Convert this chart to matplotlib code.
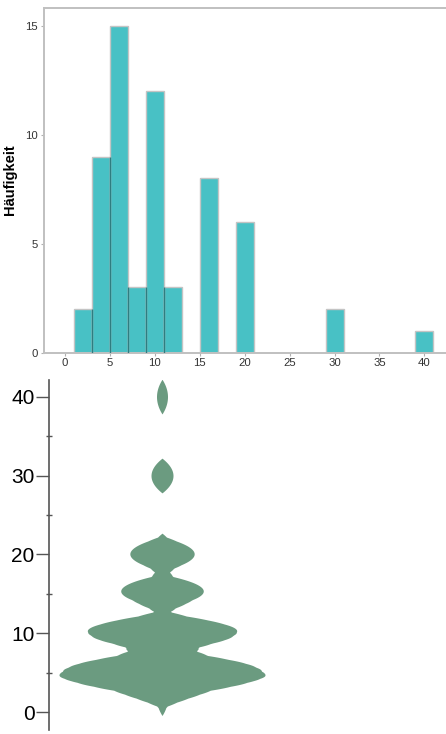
import numpy as np
import matplotlib
matplotlib.use("Agg")
import matplotlib.pyplot as plt

plt.rcParams['font.family'] = ['Liberation Sans', 'DejaVu Sans']

# ---- data (raw observations, estimated from histogram + violin) ----
values_1_3 = [1.8, 2.8]
values_3_5 = [3, 3, 3, 3.5, 3.5, 4, 4, 4.5, 4.5]
values_5_7 = [5, 5, 5, 5, 5, 5, 5, 5.5, 5.5, 5.5, 6, 6, 6, 6.5, 6.5]
values_7_9 = [7, 7.5, 8]
values_9_11 = [9, 9.5, 10, 10, 10, 10, 10, 10.5, 10.5, 10.5, 10.5, 10.5]
values_11_13 = [11, 11, 12]
values_15_17 = [15, 15, 15, 15, 15, 15.5, 16, 16.5]
values_19_21 = [19.5, 20, 20, 20, 20.5, 20.5]
values_29_31 = [30, 30]
values_39_41 = [40]
values = np.array(values_1_3 + values_3_5 + values_5_7 + values_7_9 + values_9_11 +
                  values_11_13 + values_15_17 + values_19_21 + values_29_31 +
                  values_39_41, float)

hist_bins = np.arange(1, 43, 2)
hist_xticks = [0, 5, 10, 15, 20, 25, 30, 35, 40]
hist_yticks = [0, 5, 10, 15]
violin_major = [0, 10, 20, 30, 40]
violin_minor = [5, 15, 25, 35]
ylabel = "Häufigkeit"

# ---- figure ----
W, H = 446, 734
fig = plt.figure(figsize=(W / 100, H / 100), dpi=100)

# Top: histogram
ax1 = fig.add_axes([43.5 / W, 1 - 352.7 / H, 1 - 43.5 / W + 0.01, (352.7 - 7.5) / H])
counts, edges, patches = ax1.hist(values, bins=hist_bins, color='#48C1C5',
                                  edgecolor='#c4c4c4', linewidth=1.0, zorder=2)
# darker shared edges between adjacent bars
for i in range(1, len(counts)):
    if counts[i] > 0 and counts[i - 1] > 0:
        ax1.vlines(edges[i], 0, min(counts[i], counts[i - 1]), color='#2f7d80',
                   linewidth=1.0, zorder=3)
ax1.set_xlim(-2.38, 42.9)
ax1.set_ylim(0, 15.85)
ax1.set_xticks(hist_xticks)
ax1.set_yticks(hist_yticks)
for s in ['left', 'top', 'bottom']:
    ax1.spines[s].set_color('#c0c0c0')
    ax1.spines[s].set_linewidth(1.4)
ax1.spines['right'].set_visible(False)
ax1.tick_params(axis='both', length=2.5, width=0.8, color='#b0b0b0',
                labelsize=8.2, labelcolor='#333333', pad=1.5)
ax1.set_ylabel(ylabel, fontsize=10.5, fontweight='bold')
ax1.yaxis.set_label_coords((17 - 43.5) / (W - 43.5), (352.7 - 180) / (352.7 - 7.5))

# Bottom: violin (Epanechnikov kernel density)
ax2 = fig.add_axes([49 / W, 1 - 730 / H, 1 - 49 / W, (730 - 380) / H])
bw = 2.2
ygrid = np.linspace(values.min() - bw, values.max() + bw, 3000)
u = (ygrid[:, None] - values[None, :]) / bw
dens = np.clip(1 - u ** 2, 0, None).sum(axis=1)
max_half = 103.0
half = dens / dens.max() * max_half
ax2.fill_betweenx(ygrid, -half, half, color='#6B9B80', linewidth=0)
ax2.set_xlim(49 - 162, 446 - 162)
ax2.set_ylim(-2.24, 42.1)
for s in ['right', 'top', 'bottom']:
    ax2.spines[s].set_visible(False)
ax2.spines['left'].set_color('#555555')
ax2.spines['left'].set_linewidth(1.2)
ax2.set_xticks([])
ax2.set_yticks(violin_major)
ax2.set_yticks(violin_minor, minor=True)
ax2.tick_params(axis='y', which='major', length=9.5, width=1.0, color='#555555',
                labelsize=15, pad=1)
ax2.tick_params(axis='y', which='minor', length=5, width=1.0, color='#555555',
                direction='inout')

fig.savefig('out.png', dpi=100)
